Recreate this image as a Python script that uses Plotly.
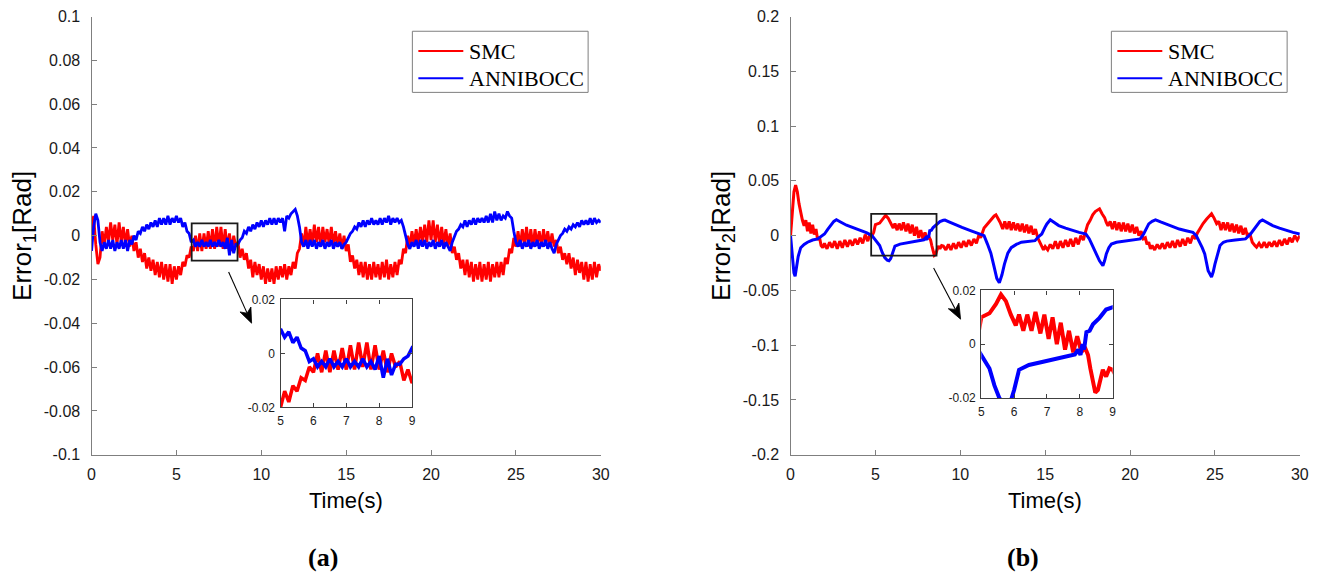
import numpy as np
import plotly.graph_objects as go

# ---------------------------------------------------------------- data
# (a) joint-1 tracking error, sampled every 0.125 s from 0 to 30 s
T1 = np.linspace(0.0, 30.0, 241)

E1_SMC = [
    0.002, 0.009, -0.004, -0.013, -0.010, 0.002, -0.004, 0.004,
    -0.003, 0.006, -0.002, 0.005, -0.004, 0.006, -0.003, 0.004,
    -0.004, 0.003, -0.005, 0.000, -0.007, -0.003, -0.010, -0.006,
    -0.012, -0.008, -0.015, -0.010, -0.016, -0.011, -0.018, -0.012,
    -0.019, -0.012, -0.020, -0.013, -0.021, -0.013, -0.022, -0.014,
    -0.020, -0.014, -0.018, -0.012, -0.014, -0.009, -0.010, -0.005,
    -0.007, 0.000, -0.007, 0.001, -0.007, 0.001, -0.006, 0.002,
    -0.006, 0.003, -0.006, 0.004, -0.005, 0.004, -0.006, 0.003,
    -0.006, 0.001, -0.007, 0.000, -0.005, -0.003, -0.010, -0.006,
    -0.011, -0.008, -0.015, -0.011, -0.019, -0.012, -0.018, -0.013,
    -0.020, -0.014, -0.022, -0.015, -0.021, -0.015, -0.022, -0.014,
    -0.020, -0.014, -0.019, -0.013, -0.020, -0.014, -0.018, -0.012,
    -0.015, -0.008, -0.006, 0.001, -0.005, 0.004, -0.004, 0.003,
    -0.004, 0.005, -0.003, 0.004, -0.005, 0.004, -0.003, 0.003,
    -0.004, 0.004, -0.004, 0.002, -0.005, 0.001, -0.006, 0.000,
    -0.007, -0.004, -0.012, -0.009, -0.015, -0.011, -0.018, -0.012,
    -0.019, -0.012, -0.020, -0.013, -0.020, -0.012, -0.019, -0.013,
    -0.020, -0.012, -0.019, -0.011, -0.020, -0.013, -0.019, -0.012,
    -0.018, -0.011, -0.013, -0.006, -0.008, 0.000, -0.005, 0.002,
    -0.004, 0.003, -0.004, 0.004, -0.003, 0.005, -0.003, 0.007,
    -0.002, 0.007, -0.003, 0.005, -0.004, 0.004, -0.004, 0.003,
    -0.005, 0.001, -0.008, -0.005, -0.011, -0.008, -0.015, -0.011,
    -0.018, -0.011, -0.019, -0.012, -0.021, -0.013, -0.020, -0.012,
    -0.021, -0.013, -0.020, -0.012, -0.021, -0.013, -0.019, -0.012,
    -0.019, -0.012, -0.018, -0.010, -0.013, -0.006, -0.008, -0.001,
    -0.005, 0.002, -0.005, 0.003, -0.004, 0.004, -0.005, 0.003,
    -0.005, 0.003, -0.004, 0.002, -0.005, 0.003, -0.004, 0.002,
    -0.005, 0.001, -0.005, -0.002, -0.008, -0.005, -0.011, -0.008,
    -0.013, -0.008, -0.015, -0.010, -0.018, -0.011, -0.017, -0.012,
    -0.020, -0.012, -0.021, -0.013, -0.020, -0.012, -0.019, -0.013,
    -0.016,
]

E1_ANN = [
    -0.007, 0.004, 0.010, 0.007, -0.003, -0.007, -0.003, -0.006,
    -0.002, -0.006, -0.002, -0.007, -0.003, -0.006, -0.002, -0.006,
    -0.002, -0.007, -0.002, -0.004, 0.000, -0.002, 0.002, 0.001,
    0.004, 0.002, 0.005, 0.003, 0.006, 0.004, 0.007, 0.004,
    0.008, 0.005, 0.008, 0.005, 0.009, 0.005, 0.008, 0.006,
    0.009, 0.006, 0.008, 0.004, 0.006, 0.002, 0.001, -0.003,
    -0.002, -0.005, -0.003, -0.005, -0.002, -0.005, -0.003, -0.005,
    -0.002, -0.005, -0.003, -0.005, -0.002, -0.005, -0.003, -0.006,
    -0.001, -0.009, -0.002, -0.008, -0.004, -0.004, -0.002, -0.001,
    0.002, 0.001, 0.004, 0.002, 0.005, 0.003, 0.006, 0.004,
    0.007, 0.004, 0.007, 0.005, 0.008, 0.005, 0.008, 0.005,
    0.008, 0.006, 0.008, 0.002, 0.009, 0.008, 0.010, 0.011,
    0.012, 0.009, 0.004, -0.003, -0.005, -0.002, -0.006, -0.002,
    -0.005, -0.002, -0.006, -0.003, -0.005, -0.002, -0.006, -0.003,
    -0.005, -0.002, -0.006, -0.003, -0.005, -0.003, -0.006, -0.004,
    -0.003, -0.001, 0.001, 0.002, 0.004, 0.003, 0.006, 0.004,
    0.007, 0.004, 0.007, 0.005, 0.008, 0.005, 0.007, 0.005,
    0.008, 0.005, 0.008, 0.006, 0.009, 0.005, 0.008, 0.006,
    0.008, 0.006, 0.007, 0.004, 0.000, -0.004, -0.006, -0.003,
    -0.005, -0.002, -0.006, -0.002, -0.005, -0.002, -0.006, -0.003,
    -0.005, -0.002, -0.006, -0.003, -0.005, -0.002, -0.006, -0.003,
    -0.005, -0.007, -0.003, 0.000, 0.002, 0.003, 0.005, 0.004,
    0.007, 0.004, 0.007, 0.005, 0.008, 0.005, 0.008, 0.006,
    0.008, 0.006, 0.009, 0.006, 0.010, 0.006, 0.011, 0.007,
    0.010, 0.007, 0.009, 0.008, 0.011, 0.009, 0.008, 0.002,
    -0.003, -0.005, -0.002, -0.006, -0.003, -0.005, -0.002, -0.006,
    -0.003, -0.005, -0.002, -0.006, -0.003, -0.005, -0.002, -0.006,
    -0.003, -0.006, -0.008, -0.004, -0.002, 0.000, 0.001, 0.003,
    0.002, 0.004, 0.003, 0.005, 0.004, 0.006, 0.004, 0.007,
    0.005, 0.007, 0.005, 0.008, 0.005, 0.008, 0.006, 0.007,
    0.006,
]

# (b) joint-2 tracking error, (time [s], error [rad]) readings
E2_SMC = [
    (0.0, 0.000), (0.1, 0.020), (0.2, 0.040), (0.3, 0.046), (0.4, 0.040),
    (0.5, 0.029), (0.6, 0.020), (0.7, 0.014), (0.8, 0.009), (0.9, 0.014),
    (1.0, 0.004), (1.1, 0.012), (1.2, 0.002), (1.3, 0.010), (1.4, 0.001),
    (1.5, 0.006), (1.6, -0.004), (1.7, -0.001), (1.8, -0.009), (1.9, -0.011),
    (2.0, -0.007), (2.15, -0.012), (2.3, -0.006), (2.45, -0.011), (2.6, -0.005),
    (2.75, -0.012), (2.9, -0.005), (3.05, -0.011), (3.2, -0.004), (3.35, -0.010),
    (3.5, -0.004), (3.65, -0.009), (3.8, -0.003), (3.95, -0.008), (4.1, -0.002),
    (4.25, -0.007), (4.4, 0.001), (4.55, -0.005), (4.7, 0.002), (4.8, 0.000),
    (4.9, 0.003), (5.0, 0.010), (5.25, 0.0115), (5.45, 0.015), (5.6, 0.0185),
    (5.75, 0.016), (5.9, 0.011), (6.05, 0.007), (6.15, 0.011), (6.28, 0.005),
    (6.4, 0.011), (6.53, 0.005), (6.65, 0.012), (6.8, 0.004), (6.92, 0.011),
    (7.05, 0.002), (7.17, 0.010), (7.3, 0.000), (7.42, 0.008), (7.55, -0.002),
    (7.67, 0.005), (7.8, -0.003), (7.92, 0.003), (8.05, -0.003), (8.15, -0.001),
    (8.25, -0.004), (8.32, -0.009), (8.4, -0.015), (8.47, -0.018), (8.55, -0.017),
    (8.62, -0.014), (8.7, -0.0095), (8.8, -0.012), (8.9, -0.009), (9.0, -0.0095),
    (9.15, -0.013), (9.3, -0.008), (9.45, -0.013), (9.6, -0.007), (9.75, -0.012),
    (9.9, -0.006), (10.05, -0.011), (10.2, -0.005), (10.35, -0.010), (10.5, -0.004),
    (10.65, -0.009), (10.8, -0.003), (10.95, -0.007), (11.1, 0.001), (11.2, -0.002),
    (11.4, 0.007), (11.6, 0.011), (11.8, 0.014), (12.0, 0.018), (12.1, 0.019),
    (12.2, 0.016), (12.35, 0.012), (12.5, 0.006), (12.62, 0.013), (12.75, 0.006),
    (12.88, 0.013), (13.0, 0.005), (13.13, 0.012), (13.26, 0.005), (13.39, 0.011),
    (13.52, 0.004), (13.65, 0.011), (13.78, 0.003), (13.91, 0.010), (14.04, 0.002),
    (14.17, 0.009), (14.3, 0.001), (14.43, 0.006), (14.56, -0.002), (14.7, -0.006),
    (14.8, -0.009), (14.9, -0.013), (15.0, -0.010), (15.15, -0.013), (15.3, -0.008),
    (15.45, -0.012), (15.6, -0.005), (15.75, -0.012), (15.9, -0.005), (16.05, -0.011),
    (16.2, -0.004), (16.35, -0.010), (16.5, -0.003), (16.65, -0.010), (16.8, -0.002),
    (16.95, -0.008), (17.1, 0.000), (17.25, -0.004), (17.35, 0.002), (17.5, 0.010),
    (17.65, 0.014), (17.8, 0.019), (17.95, 0.022), (18.1, 0.024), (18.2, 0.0245),
    (18.35, 0.020), (18.5, 0.0165), (18.6, 0.012), (18.7, 0.009), (18.83, 0.013),
    (18.96, 0.006), (19.09, 0.013), (19.22, 0.005), (19.35, 0.012), (19.48, 0.004),
    (19.61, 0.012), (19.74, 0.004), (19.87, 0.011), (20.0, 0.003), (20.13, 0.010),
    (20.26, 0.002), (20.39, 0.008), (20.52, 0.000), (20.65, 0.004), (20.78, -0.003),
    (20.9, -0.002), (21.0, -0.008), (21.1, -0.006), (21.2, -0.012), (21.3, -0.009),
    (21.45, -0.013), (21.6, -0.008), (21.75, -0.012), (21.9, -0.007), (22.05, -0.012),
    (22.2, -0.006), (22.35, -0.011), (22.5, -0.005), (22.65, -0.011), (22.8, -0.004),
    (22.95, -0.010), (23.1, -0.003), (23.25, -0.009), (23.4, -0.002), (23.55, -0.007),
    (23.7, 0.000), (23.85, -0.003), (23.95, 0.002), (24.1, 0.006), (24.3, 0.011),
    (24.5, 0.015), (24.7, 0.018), (24.8, 0.020), (24.95, 0.016), (25.1, 0.011),
    (25.23, 0.013), (25.36, 0.005), (25.49, 0.012), (25.62, 0.005), (25.75, 0.012),
    (25.88, 0.004), (26.01, 0.011), (26.14, 0.003), (26.27, 0.010), (26.4, 0.002),
    (26.53, 0.009), (26.66, 0.001), (26.79, 0.007), (26.92, -0.001), (27.05, 0.002),
    (27.2, -0.006), (27.35, -0.009), (27.45, -0.0105), (27.6, -0.007), (27.75, -0.011),
    (27.9, -0.006), (28.05, -0.011), (28.2, -0.006), (28.35, -0.010), (28.5, -0.005),
    (28.65, -0.010), (28.8, -0.004), (28.95, -0.009), (29.1, -0.003), (29.25, -0.008),
    (29.4, -0.002), (29.55, -0.006), (29.7, 0.000), (29.85, -0.004), (30.0, 0.000),
]

E2_ANN = [
    (0.0, 0.000), (0.1, -0.020), (0.2, -0.034), (0.27, -0.037), (0.35, -0.030),
    (0.45, -0.019), (0.6, -0.011), (0.8, -0.008), (1.0, -0.006), (1.3, -0.004),
    (1.6, -0.003), (1.8, -0.001), (2.0, 0.0015), (2.2, 0.006), (2.4, 0.0105),
    (2.55, 0.013), (2.7, 0.0145), (2.85, 0.013), (3.0, 0.012), (3.3, 0.0095),
    (3.6, 0.0078), (3.9, 0.006), (4.2, 0.0046), (4.5, 0.0025), (4.8, 0.000),
    (5.0, -0.004), (5.1, -0.006), (5.25, -0.009), (5.4, -0.0153), (5.55, -0.020),
    (5.7, -0.0225), (5.8, -0.023), (5.9, -0.021), (6.0, -0.017), (6.15, -0.0095),
    (6.45, -0.0077), (6.95, -0.0063), (7.45, -0.005), (7.85, -0.0038), (7.95, -0.002),
    (8.02, -0.004), (8.08, 0.000), (8.13, -0.002), (8.2, 0.0045), (8.3, 0.005),
    (8.4, 0.0074), (8.6, 0.0098), (8.8, 0.0129), (9.0, 0.014), (9.1, 0.0142),
    (9.3, 0.0128), (9.6, 0.0107), (10.1, 0.0075), (10.6, 0.0046), (11.0, 0.0025),
    (11.4, 0.000), (11.6, -0.0077), (11.8, -0.016), (12.0, -0.029), (12.15, -0.039),
    (12.3, -0.043), (12.45, -0.036), (12.6, -0.026), (12.8, -0.016), (13.0, -0.011),
    (13.3, -0.008), (13.6, -0.006), (14.0, -0.005), (14.4, -0.0046), (14.6, -0.001),
    (14.8, 0.0015), (15.0, 0.008), (15.1, 0.0107), (15.3, 0.0144), (15.5, 0.012),
    (15.8, 0.0092), (16.2, 0.0068), (16.6, 0.0046), (17.0, 0.003), (17.4, 0.0015),
    (17.6, -0.003), (17.75, -0.008), (17.9, -0.0138), (18.05, -0.018), (18.2, -0.023),
    (18.4, -0.0275), (18.5, -0.023), (18.6, -0.0168), (18.75, -0.011), (18.9, -0.0077),
    (19.2, -0.006), (19.6, -0.005), (20.1, -0.004), (20.6, -0.003), (20.8, 0.0015),
    (20.95, 0.006), (21.1, 0.0107), (21.3, 0.013), (21.5, 0.0144), (21.8, 0.0125),
    (22.1, 0.0107), (22.5, 0.008), (22.9, 0.006), (23.3, 0.0045), (23.7, 0.003),
    (23.9, 0.000), (24.1, -0.006), (24.25, -0.011), (24.4, -0.0168), (24.5, -0.024),
    (24.6, -0.032), (24.8, -0.0377), (24.9, -0.033), (25.0, -0.026), (25.15, -0.016),
    (25.3, -0.009), (25.5, -0.006), (25.7, -0.005), (26.2, -0.004), (26.8, -0.003),
    (27.1, 0.0015), (27.3, 0.006), (27.5, 0.0107), (27.65, 0.013), (27.8, 0.0144),
    (28.0, 0.0125), (28.4, 0.0092), (28.8, 0.0068), (29.2, 0.0046), (29.6, 0.003),
    (30.0, 0.0015),
]

SERIES_NAMES = ["SMC", "ANNIBOCC"]

# tick labels
T_TICKS = [0, 5, 10, 15, 20, 25, 30]
E1_TICKS = [0.1, 0.08, 0.06, 0.04, 0.02, 0, -0.02, -0.04, -0.06, -0.08, -0.1]
E1_TICKTEXT = ["0.1", "0.08", "0.06", "0.04", "0.02", "0", "-0.02", "-0.04",
               "-0.06", "-0.08", "-0.1"]
E2_TICKS = [0.2, 0.15, 0.1, 0.05, 0, -0.05, -0.1, -0.15, -0.2]
E2_TICKTEXT = ["0.2", "0.15", "0.1", "0.05", "0", "-0.05", "-0.1", "-0.15", "-0.2"]
ZOOM_T_TICKS = [5, 6, 7, 8, 9]
ZOOM_E_TICKS = [-0.02, 0, 0.02]
ZOOM_E_TICKTEXT = ["-0.02", "0", "0.02"]

# zoom windows marked on the main axes: (t0, t1, e0, e1)
ZOOM_BOX_A = (5.9, 8.6, -0.0114, 0.0056)
ZOOM_BOX_B = (4.75, 8.6, -0.0183, 0.0199)

# ---------------------------------------------------------------- style
# Layout positions below are given in screen pixels of the final view; the page
# shows the figure slightly shrunk and offset, so positions are converted back
# to figure pixels with that measured offset/scale.
W, H = 1340, 600
SX, OX = 0.9917, 3.05
SY, OY = 0.9696, 7.49
RED, BLUE = "#ff0000", "#0000ff"
SANS = "Arial, Liberation Sans, sans-serif"
SERIF = "Times New Roman, Liberation Serif, serif"
AXIS_GREY = "#7f7f7f"


def fx(p):
    """screen x pixel -> paper fraction"""
    return (p - OX) / SX / W


def fy(p):
    """screen y pixel (from top) -> paper fraction"""
    return 1 - (p - OY) / SY / H


t2s, e2s = zip(*E2_SMC)
t2a, e2a = zip(*E2_ANN)

fig = go.Figure()

# main axes (a)
fig.add_trace(go.Scatter(x=T1, y=E1_SMC, mode="lines", name=SERIES_NAMES[0],
                         line=dict(color=RED, width=2.8), xaxis="x", yaxis="y"))
fig.add_trace(go.Scatter(x=T1, y=E1_ANN, mode="lines", name=SERIES_NAMES[1],
                         line=dict(color=BLUE, width=2.8), xaxis="x", yaxis="y"))
# main axes (b)
fig.add_trace(go.Scatter(x=t2s, y=e2s, mode="lines", name=SERIES_NAMES[0],
                         line=dict(color=RED, width=3), xaxis="x2", yaxis="y2"))
fig.add_trace(go.Scatter(x=t2a, y=e2a, mode="lines", name=SERIES_NAMES[1],
                         line=dict(color=BLUE, width=3), xaxis="x2", yaxis="y2"))
# inset (a)
fig.add_trace(go.Scatter(x=T1, y=E1_SMC, mode="lines", line=dict(color=RED, width=3.5),
                         xaxis="x3", yaxis="y3"))
fig.add_trace(go.Scatter(x=T1, y=E1_ANN, mode="lines", line=dict(color=BLUE, width=3.5),
                         xaxis="x3", yaxis="y3"))
# inset (b)
fig.add_trace(go.Scatter(x=t2s, y=e2s, mode="lines", line=dict(color=RED, width=4),
                         xaxis="x4", yaxis="y4"))
fig.add_trace(go.Scatter(x=t2a, y=e2a, mode="lines", line=dict(color=BLUE, width=4),
                         xaxis="x4", yaxis="y4"))


def main_axis(domain, rng, tickvals, ticktext=None, anchor=None, standoff=7):
    ax = dict(domain=domain, range=rng, tickvals=tickvals, ticks="inside", ticklen=5,
              tickcolor=AXIS_GREY, showline=True, linecolor=AXIS_GREY, linewidth=1.3,
              showgrid=False, zeroline=False, mirror=False,
              tickfont=dict(family=SANS, size=16, color="#1a1a1a"),
              ticklabelstandoff=standoff)
    if ticktext is not None:
        ax["ticktext"] = ticktext
    if anchor:
        ax["anchor"] = anchor
    return ax


def inset_axis(domain, rng, tickvals, ticktext=None, anchor=None):
    ax = dict(domain=domain, range=rng, tickvals=tickvals, ticks="inside", ticklen=4,
              tickcolor="#404040", showline=True, linecolor="#404040", linewidth=1.2,
              showgrid=False, zeroline=False, mirror="ticks",
              tickfont=dict(family=SANS, size=12, color="#1a1a1a"),
              ticklabelstandoff=2)
    if ticktext is not None:
        ax["ticktext"] = ticktext
    if anchor:
        ax["anchor"] = anchor
    return ax


y_main = [fy(453.3), fy(16.0)]

fig.update_layout(
    width=W, height=H, margin=dict(l=0, r=0, t=0, b=0),
    paper_bgcolor="white", plot_bgcolor="white", showlegend=False,
    xaxis=main_axis([fx(90.7), fx(600.7)], [0, 30], T_TICKS, anchor="y", standoff=5),
    yaxis=main_axis(y_main, [-0.1, 0.1], E1_TICKS, E1_TICKTEXT, anchor="x"),
    xaxis2=main_axis([fx(790.7), fx(1300.7)], [0, 30], T_TICKS, anchor="y2", standoff=5),
    yaxis2=main_axis(y_main, [-0.2, 0.2], E2_TICKS, E2_TICKTEXT, anchor="x2"),
    xaxis3=inset_axis([fx(280.0), fx(411.7)], [5, 9], ZOOM_T_TICKS, anchor="y3"),
    yaxis3=inset_axis([fy(406.0), fy(298.3)], [-0.02, 0.02], ZOOM_E_TICKS,
                      ZOOM_E_TICKTEXT, anchor="x3"),
    xaxis4=inset_axis([fx(981.7), fx(1113.3)], [5, 9], ZOOM_T_TICKS, anchor="y4"),
    yaxis4=inset_axis([fy(396.7), fy(289.3)], [-0.02, 0.02], ZOOM_E_TICKS,
                      ZOOM_E_TICKTEXT, anchor="x4"),
)

shapes = []
# zoom windows
for (t0, t1, e0, e1), xr, yr in [(ZOOM_BOX_A, "x", "y"), (ZOOM_BOX_B, "x2", "y2")]:
    shapes.append(dict(type="rect", xref=xr, yref=yr, x0=t0, x1=t1, y0=e0, y1=e1,
                       line=dict(color="#1a1a1a", width=1.8), layer="above"))

annotations = []
# legends
for off in (0, 700):
    shapes.append(dict(type="rect", xref="paper", yref="paper",
                       x0=fx(412 + off), x1=fx(588 + off), y0=fy(91.7), y1=fy(30.7),
                       line=dict(color=AXIS_GREY, width=1), fillcolor="white",
                       layer="above"))
    for name, color, yy in [(SERIES_NAMES[0], RED, 50.5), (SERIES_NAMES[1], BLUE, 77.5)]:
        shapes.append(dict(type="line", xref="paper", yref="paper",
                           x0=fx(418 + off), x1=fx(463 + off), y0=fy(yy), y1=fy(yy),
                           line=dict(color=color, width=2), layer="above"))
        annotations.append(dict(text=name, xref="paper", yref="paper",
                                x=fx(467 + off), y=fy(yy), xanchor="left",
                                yanchor="middle", showarrow=False,
                                font=dict(family=SERIF, size=22, color="black")))


# arrows from the zoom windows to the insets (screen pixels -> paper path)
def arrow_shapes(tail, tip, head_len=15.0, half_w=6.0, notch=4.0):
    tail, tip = np.array(tail, float), np.array(tip, float)
    u = (tip - tail) / np.linalg.norm(tip - tail)
    n = np.array([-u[1], u[0]])
    base = tip - head_len * u
    wing1, wing2 = base + half_w * n, base - half_w * n
    inner = tip - (head_len - notch) * u
    pts = [tip, wing1, inner, wing2]
    path = "M " + " L ".join(f"{fx(p[0]):.5f},{fy(p[1]):.5f}" for p in pts) + " Z"
    return [
        dict(type="line", xref="paper", yref="paper", x0=fx(tail[0]), y0=fy(tail[1]),
             x1=fx(inner[0]), y1=fy(inner[1]), line=dict(color="black", width=1.1),
             layer="above"),
        dict(type="path", xref="paper", yref="paper", path=path, fillcolor="black",
             line=dict(color="black", width=0.8), layer="above"),
    ]


shapes += arrow_shapes((228, 271), (251, 322))
shapes += arrow_shapes((934, 267), (961, 318))

# axis titles and panel captions
for cx, ylab, cap in [(0, "Error<sub>1</sub>[Rad]", "(a)"),
                      (700, "Error<sub>2</sub>[Rad]", "(b)")]:
    annotations.append(dict(text="Time(s)", xref="paper", yref="paper",
                            x=fx(345.7 + cx), y=fy(499), xanchor="center",
                            yanchor="middle", showarrow=False,
                            font=dict(family=SANS, size=22, color="black")))
    annotations.append(dict(text=ylab, xref="paper", yref="paper",
                            x=fx(23 + cx), y=fy(235), xanchor="center",
                            yanchor="middle", textangle=-90, showarrow=False,
                            font=dict(family=SANS, size=26, color="black")))
    annotations.append(dict(text="<b>" + cap + "</b>", xref="paper", yref="paper",
                            x=fx(323 + cx), y=fy(556), xanchor="center",
                            yanchor="middle", showarrow=False,
                            font=dict(family=SERIF, size=26, color="black")))

fig.update_layout(shapes=shapes, annotations=annotations)

fig.write_html("out.html")
